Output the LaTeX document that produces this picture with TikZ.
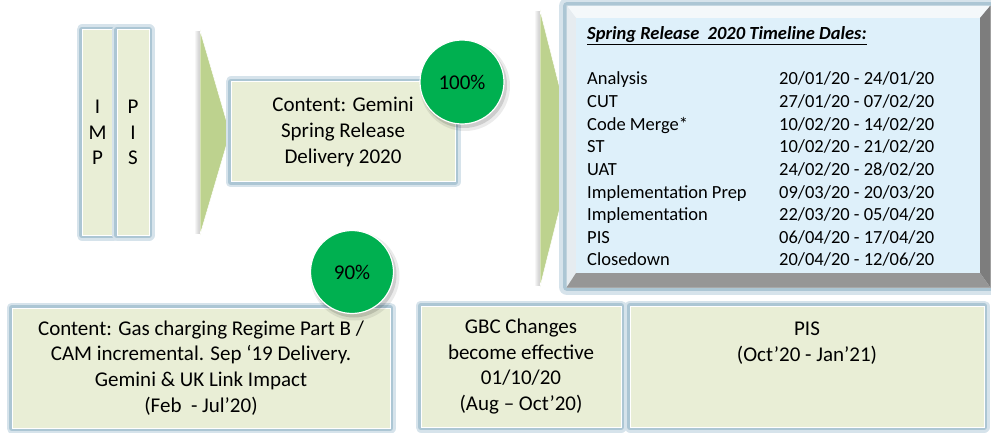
\documentclass[tikz,border=0pt]{standalone}
\usepackage{fontspec}
\setmainfont{Carlito}
\usetikzlibrary{calc}
\definecolor{boxfill}{RGB}{233,238,214}
\definecolor{glowA}{RGB}{214,227,235}
\definecolor{glowB}{RGB}{172,198,212}
\definecolor{chev}{RGB}{189,210,142}
\definecolor{okgreen}{RGB}{0,176,80}
\definecolor{tlface}{RGB}{222,240,250}
\definecolor{bevtop}{RGB}{244,248,250}
\definecolor{bevleft}{RGB}{230,236,240}
\definecolor{bevright}{RGB}{125,125,125}
\definecolor{bevbot}{RGB}{150,150,150}
\tikzset{
  bigfont/.style={font=\fontsize{21}{25.7}\selectfont},
  tlfont/.style={font=\fontsize{18.5}{22.6}\selectfont},
  gbox/.style={rectangle, fill=boxfill, draw=white, line width=1pt, inner sep=0pt,
    align=center, bigfont,
    preaction={draw=glowA, line width=11pt, line join=round},
    preaction={draw=glowB, line width=6.5pt, line join=round}},
  chevron/.style={fill=chev, draw=white, line width=0.5pt},
  pctcircle/.style={circle, fill=okgreen, draw=white, line width=1.2pt, minimum size=84pt,
    inner sep=0pt, bigfont},
  tltext/.style={anchor=base west, inner sep=0pt, tlfont}
}
\begin{document}
\begin{tikzpicture}[x=1pt,y=-1pt]
\useasboundingbox (0,0) rectangle (991,433);

% ---------- IMP / PIS vertical boxes ----------
\node[gbox, minimum width=31pt, minimum height=205pt] (imp) at (97.5,132.5) {I\\M\\P};
\node[gbox, minimum width=32pt, minimum height=205pt] (pisv) at (133,132.5) {P\\I\\S};

% ---------- first chevron ----------
\shade[left color=white, right color=black!22] (194,32) rectangle (200,233);
\coordinate (c1t) at (200,30);
\coordinate (c1p) at (230,133);
\coordinate (c1b) at (200,235);
\fill[chevron] (c1t) -- (c1p) -- (c1b) -- cycle;

% ---------- Gemini content box + 100% ----------
\node[gbox, minimum width=224pt, minimum height=100pt] (gemini) at (343,132)
  {Content: Gemini\\Spring Release\\Delivery 2020};
\fill[black, opacity=0.08] (465,86) circle[radius=45pt];
\fill[black, opacity=0.13] (464,85) circle[radius=43pt];
\node[pctcircle] (c100) at (462,82) {100\%};

% ---------- second chevron ----------
\shade[left color=white, right color=black!22] (534,12) rectangle (540,285);
\coordinate (c2t) at (540,10);
\coordinate (c2p) at (575,148);
\coordinate (c2b) at (540,287);
\fill[chevron] (c2t) -- (c2p) -- (c2b) -- cycle;

% ---------- timeline bevel box ----------
\node[rectangle, inner sep=0pt, minimum width=423pt, minimum height=281pt,
      fill=bevleft, draw=black!30, line width=0.6pt,
      preaction={draw=glowA, line width=16pt, line join=round},
      preaction={draw=glowB, line width=8pt, line join=round}] (tl) at (778.5,146.5) {};
\coordinate (tlA) at (576,18);
\coordinate (tlB) at (980,18);
\coordinate (tlC) at (980,273);
\coordinate (tlD) at (576,273);
\fill[bevtop] (tl.north west) -- (tl.north east) -- (tlB) -- (tlA) -- cycle;
\fill[bevleft] (tl.north west) -- (tlA) -- (tlD) -- (tl.south west) -- cycle;
\fill[bevright] (tl.north east) -- (tl.south east) -- (tlC) -- (tlB) -- cycle;
\fill[bevbot] (tl.south west) -- (tlD) -- (tlC) -- (tl.south east) -- cycle;
\fill[tlface] (tlA) rectangle (tlC);

\node[tltext] (tlhead) at (587,40)
  {\underline{\textbf{\textit{Spring Release\ \ 2020 Timeline Dales:}}}};
\foreach \lab [count=\i] in {
  Analysis,
  CUT,
  Code Merge*,
  ST,
  UAT,
  Implementation Prep,
  Implementation,
  PIS,
  Closedown}{
  \node[tltext] (lab\i) at (587,{85+22.6*(\i-1)}) {\lab};
}
\foreach \dat [count=\i] in {
  20/01/20 - 24/01/20,
  27/01/20 - 07/02/20,
  10/02/20 - 14/02/20,
  10/02/20 - 21/02/20,
  24/02/20 - 28/02/20,
  09/03/20 - 20/03/20,
  22/03/20 - 05/04/20,
  06/04/20 - 17/04/20,
  20/04/20 - 12/06/20}{
  \node[tltext] (dat\i) at (779,{85+22.6*(\i-1)}) {\dat};
}

% ---------- bottom row ----------
\node[gbox, minimum width=378pt, minimum height=120pt] (gas) at (201,368)
  {Content: Gas charging Regime Part B /\\CAM incremental. Sep ‘19 Delivery.\\Gemini \& UK Link Impact\\(Feb\ \ - Jul’20)};
\fill[black, opacity=0.08] (355,276) circle[radius=44.5pt];
\fill[black, opacity=0.13] (354,275) circle[radius=42.5pt];
\node[pctcircle, minimum size=83pt] (c90) at (352,272) {90\%};

\node[gbox, minimum width=200pt, minimum height=121pt] (gbc) at (521,366.5)
  {GBC Changes\\become effective\\01/10/20\\(Aug – Oct’20)};
\node[gbox, minimum width=354pt, minimum height=121pt] (pisbox) at (807,366.5) {};
\node[align=center, bigfont, inner sep=0pt] (pistext) at (807,343) {PIS\\(Oct’20 - Jan’21)};
\end{tikzpicture}
\end{document}
